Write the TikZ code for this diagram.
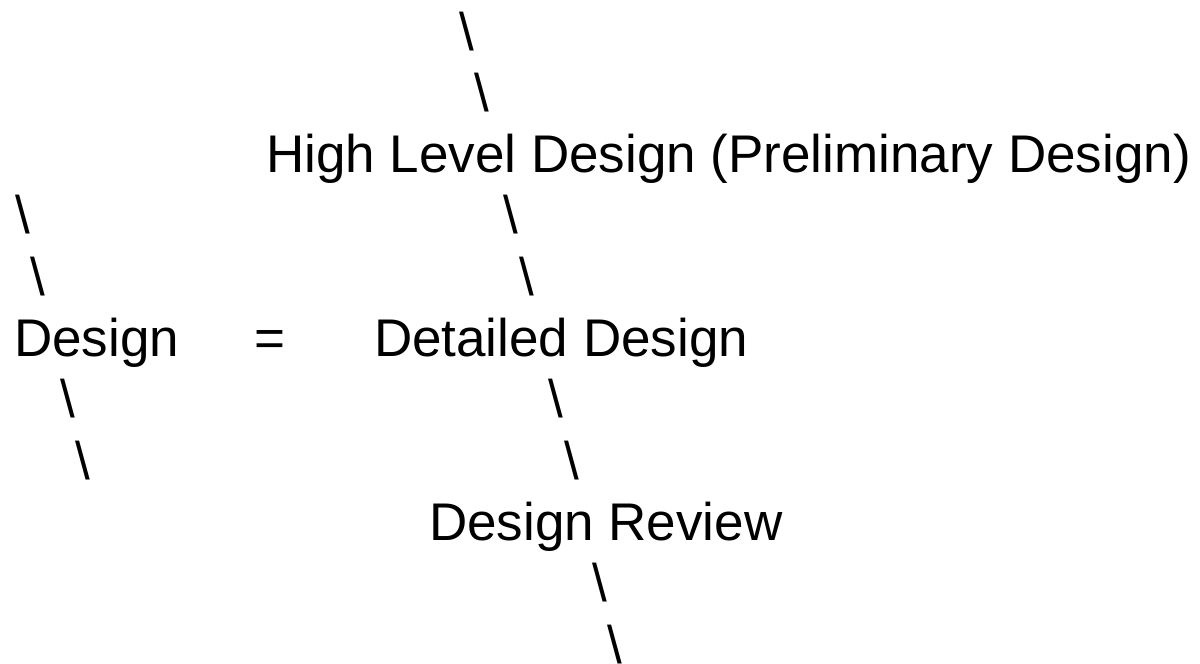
\documentclass[tikz,border=0pt]{standalone}
\usepackage{fontspec}
\setmainfont{Liberation Sans}
\tikzset{
  txt/.style={anchor=base west,inner sep=0pt,outer sep=0pt,font=\fontsize{53}{61}\selectfont},
}
\begin{document}
\begin{tikzpicture}[x=1pt,y=-1pt]
\useasboundingbox (0,0) rectangle (1200,664);
% backslash marks, one per row
\foreach \n/\x/\r in {a/459/0,b/474/1,c/15/3,d/503/3,e/30/4,f/519/4,g/60/6,h/548/6,i/75/7,j/564/7,k/592/9,l/607/10}
  \node[txt] (bs\n) at (\x,50+61.3*\r) {\textbackslash};
% text rows
\node[txt] (hld) at (266,50+61.3*2) {High Level Design (Preliminary Design)};
\node[txt] (design) at (14,50+61.3*5) {Design};
\node[txt] (eq) at (254.5,50+61.3*5) {=};
\node[txt] (detail) at (374,50+61.3*5) {Detailed Design};
\node[txt] (review) at (429,50+61.3*8) {Design Review};
\end{tikzpicture}
\end{document}
